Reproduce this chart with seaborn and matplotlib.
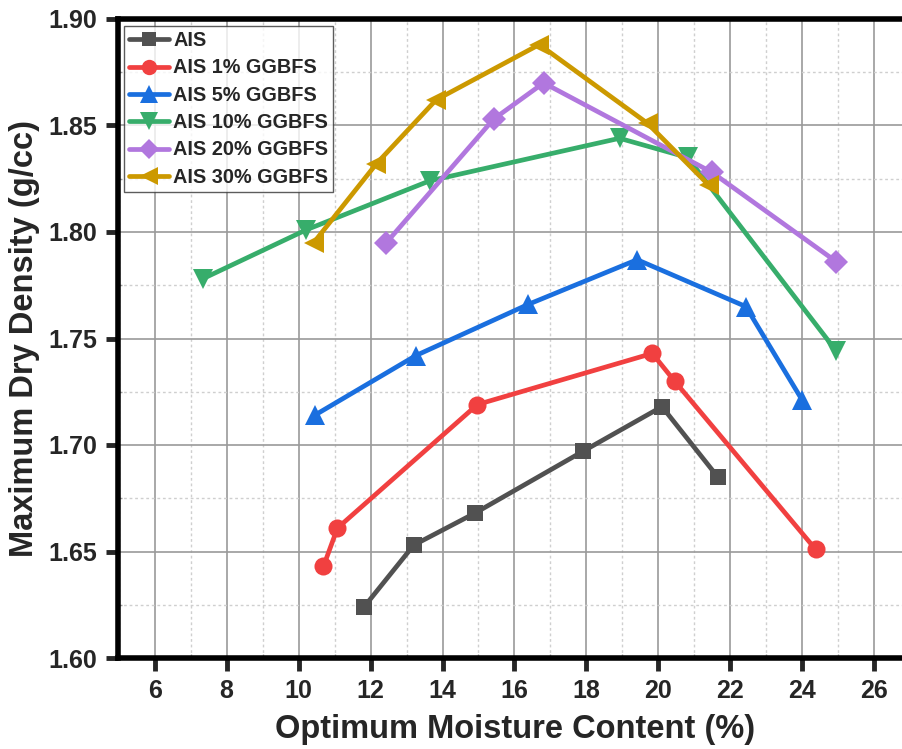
import matplotlib
matplotlib.use("Agg")
import matplotlib.pyplot as plt
from matplotlib.ticker import MultipleLocator
import seaborn as sns
import pandas as pd

series_names = ["AIS", "AIS 1% GGBFS", "AIS 5% GGBFS", "AIS 10% GGBFS",
                "AIS 20% GGBFS", "AIS 30% GGBFS"]

omc_ais = [11.82, 13.20, 14.90, 17.90, 20.10, 21.65]
mdd_ais = [1.624, 1.653, 1.668, 1.697, 1.718, 1.685]

omc_1 = [10.69, 11.08, 14.97, 19.83, 20.45, 24.37]
mdd_1 = [1.643, 1.661, 1.719, 1.743, 1.730, 1.651]

omc_5 = [10.45, 13.26, 16.38, 19.41, 22.43, 24.00]
mdd_5 = [1.714, 1.742, 1.766, 1.787, 1.765, 1.721]

omc_10 = [7.33, 10.21, 13.64, 18.92, 20.81, 24.95]
mdd_10 = [1.778, 1.801, 1.824, 1.844, 1.835, 1.744]

omc_20 = [12.44, 15.42, 16.81, 21.49, 24.95]
mdd_20 = [1.795, 1.853, 1.870, 1.828, 1.786]

omc_30 = [10.42, 12.16, 13.82, 16.69, 19.70, 21.40]
mdd_30 = [1.795, 1.832, 1.862, 1.888, 1.851, 1.822]

x_ticks = [6, 8, 10, 12, 14, 16, 18, 20, 22, 24, 26]
y_ticks = [1.60, 1.65, 1.70, 1.75, 1.80, 1.85, 1.90]

colors = ["#515151", "#F14040", "#1A6FDF", "#37AD6B", "#B177DE", "#CC9900"]
markers = ["s", "o", "^", "v", "D", "<"]
msizes = [12, 13, 15, 15, 12, 15]

all_x = [omc_ais, omc_1, omc_5, omc_10, omc_20, omc_30]
all_y = [mdd_ais, mdd_1, mdd_5, mdd_10, mdd_20, mdd_30]

frames = []
for name, xs, ys in zip(series_names, all_x, all_y):
    frames.append(pd.DataFrame({"omc": xs, "mdd": ys, "series": name}))
df = pd.concat(frames, ignore_index=True)

sns.set_style("white")
plt.rcParams["font.family"] = ["Liberation Sans", "DejaVu Sans"]

fig = plt.figure(figsize=(9.03, 7.49), dpi=100)
ax = fig.add_axes([118 / 903, 1 - 658 / 749, 1 - 118 / 903 + 0.01, (658 - 19) / 749])

for i, name in enumerate(series_names):
    sub = df[df["series"] == name]
    sns.lineplot(data=sub, x="omc", y="mdd", ax=ax, color=colors[i],
                 marker=markers[i], markersize=msizes[i], linewidth=3.4,
                 markeredgewidth=0, label=name, sort=False, zorder=3 + i)

ax.set_xlim(4.98, 27.05)
ax.set_ylim(1.60, 1.90)
ax.set_xticks(x_ticks)
ax.set_yticks(y_ticks)
ax.set_yticklabels([f"{v:.2f}" for v in y_ticks])
ax.xaxis.set_minor_locator(MultipleLocator(1))
ax.yaxis.set_minor_locator(MultipleLocator(0.025))

ax.grid(which="major", color="#9a9a9a", linewidth=1.2, linestyle="-")
ax.grid(which="minor", color="#cfcfcf", linewidth=1.0, linestyle=(0, (2, 2)))
ax.set_axisbelow(True)

for side in ["left", "bottom", "top"]:
    ax.spines[side].set_visible(True)
    ax.spines[side].set_linewidth(4)
    ax.spines[side].set_color("black")
ax.spines["right"].set_visible(False)

ax.tick_params(which="major", direction="out", length=9, width=3.5,
               bottom=True, left=True, top=False, right=False, pad=6)
ax.tick_params(which="minor", direction="in", length=3, width=1,
               bottom=True, left=True, top=False, right=False, colors="#999999")

for lab in ax.get_xticklabels():
    lab.set_fontweight("bold")
    lab.set_fontsize(18)
for lab in ax.get_yticklabels():
    lab.set_fontweight("bold")
    lab.set_fontsize(18)

ax.set_xlabel("Optimum Moisture Content (%)", fontsize=23.5, fontweight="bold",
              labelpad=8)
ax.set_ylabel("Maximum Dry Density (g/cc)", fontsize=23.5, fontweight="bold",
              labelpad=6)

leg = ax.legend(loc="upper left", bbox_to_anchor=(0.003, 0.995),
                prop={"weight": "bold", "size": 14.3},
                frameon=True, fancybox=False, edgecolor="#333333",
                handlelength=2.0, handletextpad=0.2, labelspacing=0.42,
                borderpad=0.25, borderaxespad=0.2, markerscale=0.85)
leg.get_frame().set_linewidth(1.0)
leg.set_zorder(20)

fig.savefig("out.png", dpi=100)
